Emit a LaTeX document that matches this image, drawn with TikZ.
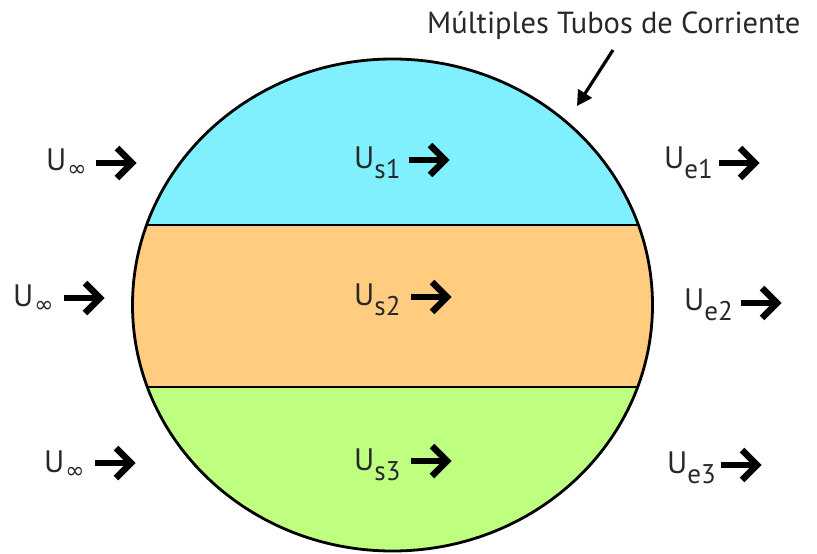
\documentclass[tikz,border=0pt]{standalone}
\usepackage{fontspec}
\setmainfont{PT Sans}
\newfontfamily\symfont{DejaVu Sans}
\usetikzlibrary{arrows.meta}
\definecolor{cyanband}{RGB}{128,240,255}
\definecolor{orangeband}{RGB}{255,204,128}
\definecolor{greenband}{RGB}{191,255,128}
\definecolor{labgray}{RGB}{40,40,40}
\newcommand\Ulab[1]{U\raisebox{-10pt}{\fontsize{27}{27}\selectfont #1}}
\newcommand\Uinf{U\kern1pt\raisebox{-6pt}{\symfont\fontsize{23}{23}\selectfont ∞}}
\tikzset{
  lab/.style={anchor=base west, inner sep=0pt, text=labgray, font=\fontsize{31}{31}\selectfont},
  flowarr/.pic={
    \draw[line width=6.5pt, line cap=butt] (0,0) -- (36,0);
    \draw[line width=6.5pt, line join=miter, line cap=butt] (21,-15) -- (36,0) -- (21,15);
  }
}
\begin{document}
\begin{tikzpicture}[x=1pt,y=-1pt]
\useasboundingbox (0,0) rectangle (817,554);
\begin{scope}
  \clip (392.5,305) ellipse [x radius=260, y radius=246];
  \fill[cyanband] (100,40) rectangle (700,225);
  \fill[orangeband] (100,225) rectangle (700,387);
  \fill[greenband] (100,387) rectangle (700,560);
  \draw[line width=1.6pt] (100,225) -- (700,225);
  \draw[line width=1.6pt] (100,387) -- (700,387);
\end{scope}
\draw[line width=2.8pt] (392.5,305) ellipse [x radius=260, y radius=246];

% title and pointer
\node[anchor=base west, inner sep=0pt, text=labgray, font=\fontsize{30.5}{30.5}\selectfont] (title) at (427,33) {Múltiples Tubos de Corriente};
\coordinate (ptrA) at (613,50);
\coordinate (ptrB) at (577,106);
\draw[line width=3.2pt, -{Triangle[length=15pt,width=16pt]}] (ptrA) -- (ptrB);

% row 1
\node[lab] (l1) at (46,170) {\Uinf};
\pic at (96,163) {flowarr};
\node[lab] (s1) at (354,168) {\Ulab{s1}};
\pic at (409,160) {flowarr};
\node[lab] (e1) at (664,168) {\Ulab{e1}};
\pic at (719,163) {flowarr};
% row 2
\node[lab] (l2) at (13,306) {\Uinf};
\pic at (64,298) {flowarr};
\node[lab] (s2) at (354,305) {\Ulab{s2}};
\pic at (411,297) {flowarr};
\node[lab] (e2) at (684,310) {\Ulab{e2}};
\pic at (741,303) {flowarr};
% row 3
\node[lab] (l3) at (44,472) {\Uinf};
\pic at (95,463) {flowarr};
\node[lab] (s3) at (354,470) {\Ulab{s3}};
\pic at (411,461) {flowarr};
\node[lab] (e3) at (667,473) {\Ulab{e3}};
\pic at (721,465) {flowarr};
\end{tikzpicture}
\end{document}
